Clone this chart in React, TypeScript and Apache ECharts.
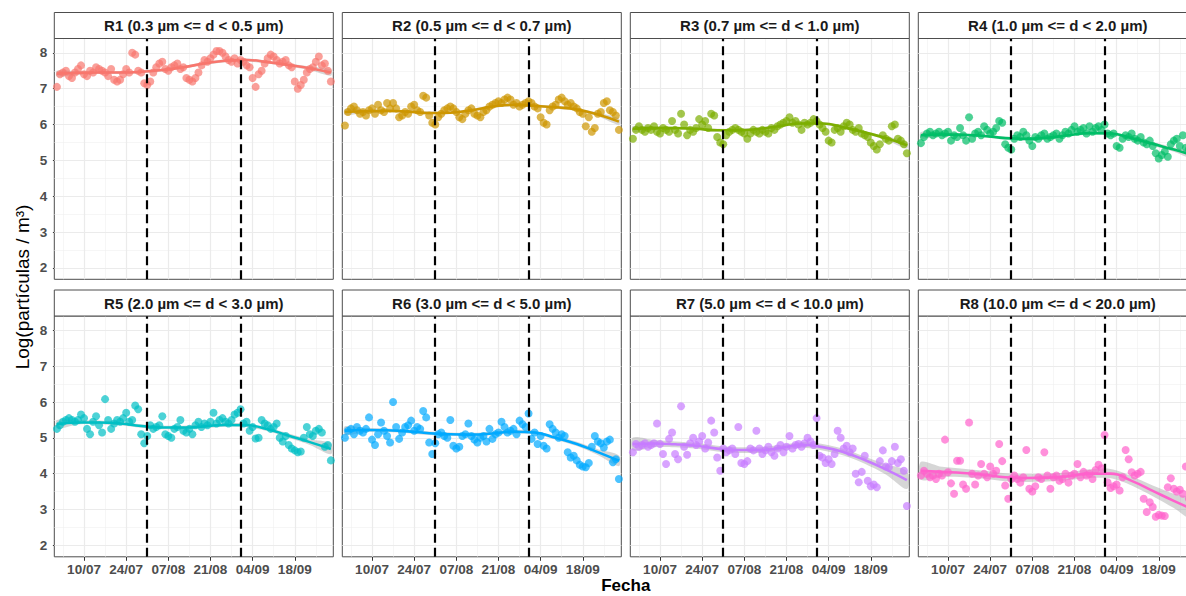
import React, { useEffect, useRef } from 'react';
import * as echarts from 'echarts';

// ---------- data ----------
const PANEL_TITLES = [
  'R1 (0.3 µm <= d < 0.5 µm)',
  'R2 (0.5 µm <= d < 0.7 µm)',
  'R3 (0.7 µm <= d < 1.0 µm)',
  'R4 (1.0 µm <= d < 2.0 µm)',
  'R5 (2.0 µm <= d < 3.0 µm)',
  'R6 (3.0 µm <= d < 5.0 µm)',
  'R7 (5.0 µm <= d < 10.0 µm)',
  'R8 (10.0 µm <= d < 20.0 µm)',
];
const COLORS = ['#F8766D', '#CD9600', '#7CAE00', '#00BE67', '#00BFC4', '#00A9FF', '#C77CFF', '#FF61CC'];

// daily values, day 0 = 01/07 ... day 91 = 30/09
const R1 = [7.05,7.40,7.45,7.50,7.35,7.30,7.45,7.55,7.65,7.40, 7.35,7.50,7.45,7.60,7.55,7.50,7.45,7.35,7.55,7.25, 7.20,7.25,7.40,7.55,7.45,8.00,7.95,7.50,7.45,7.15, 7.10,7.20,7.45,7.60,7.70,7.75,7.55,7.50,7.60,7.65, 7.70,7.55,7.60,7.30,7.25,7.20,7.30,7.45,7.65,7.80, 7.75,7.85,7.95,8.05,8.05,8.00,7.90,7.80,7.75,7.85, 7.70,7.80,7.75,7.65,7.60,7.30,7.05,7.40,7.50,7.70, 7.85,7.95,7.90,7.80,7.70,7.75,7.80,7.65,7.60,7.20, 7.00,7.10,7.25,7.45,7.55,7.60,7.75,7.90,7.65,7.70, 7.50,7.20];
const R2 = [5.97,6.35,6.45,6.50,6.40,6.30,6.35,6.25,6.40,6.45, 6.30,6.55,6.40,6.35,6.60,6.45,6.60,6.45,6.20,6.25, 6.35,6.30,6.50,6.55,6.40,6.35,6.80,6.75,6.25,6.05, 6.00,6.20,6.30,6.40,6.45,6.50,6.45,6.35,6.20,6.15, 6.30,6.40,6.45,6.30,6.25,6.20,6.35,6.40,6.50,6.55, 6.60,6.65,6.60,6.70,6.75,6.70,6.55,6.60,6.50,6.55, 6.60,6.65,6.60,6.50,6.45,6.20,6.05,6.00,6.40,6.50, 6.55,6.70,6.75,6.65,6.55,6.60,6.50,6.45,6.35,6.30, 5.95,6.20,5.80,5.90,6.30,6.35,6.60,6.65,6.40,6.35, 6.25,5.85];
const R3 = [5.60,5.85,5.95,5.85,5.80,5.90,5.85,5.95,5.80,5.75, 5.90,5.85,5.80,6.10,5.85,5.75,6.30,6.00,5.70,5.85, 5.80,5.90,6.15,6.00,6.10,5.90,6.30,6.25,5.65,5.50, 5.45,5.70,5.80,5.85,5.90,5.85,5.80,5.75,5.60,5.75, 5.85,5.80,5.75,5.85,5.80,5.75,5.90,5.85,5.95,6.00, 6.05,6.10,6.20,6.05,6.10,6.00,5.85,6.05,6.00,6.05, 6.15,6.10,6.00,5.90,5.80,5.55,5.50,5.85,5.90,5.80, 5.95,6.05,6.00,5.85,5.80,5.90,5.75,5.70,5.65,5.50, 5.40,5.30,5.45,5.70,5.60,5.55,5.95,6.00,5.60,5.55, 5.45,5.20];
const R4 = [5.48,5.65,5.75,5.80,5.70,5.75,5.80,5.70,5.75,5.80, 5.55,5.70,5.65,5.90,5.70,5.55,6.20,5.60,5.75,5.80, 5.70,5.95,5.85,5.75,5.80,5.90,6.10,6.05,5.45,5.35, 5.30,5.60,5.70,5.65,5.80,5.70,5.55,5.40,5.65,5.60, 5.70,5.75,5.60,5.65,5.70,5.75,5.60,5.70,5.80,5.75, 5.85,5.95,5.80,5.85,5.90,5.75,5.95,5.80,5.90,5.95, 5.85,6.00,5.75,5.70,5.75,5.40,5.35,5.60,5.70,5.65, 5.75,5.60,5.55,5.65,5.50,5.45,5.55,5.40,5.20,5.05, 5.15,5.25,5.10,5.45,5.55,5.60,5.40,5.70,5.35,5.30, 5.25,5.10];
const R5 = [5.25,5.35,5.45,5.50,5.55,5.50,5.45,5.50,5.65,5.55, 5.25,5.10,5.45,5.60,5.35,5.15,6.08,5.50,5.25,5.40, 5.50,5.45,5.55,5.70,5.45,5.50,5.90,5.80,5.10,4.85, 5.05,5.35,5.25,5.30,5.35,5.60,5.10,5.05,5.00,5.25, 5.30,5.50,5.20,5.15,5.25,5.10,5.35,5.45,5.30,5.40, 5.35,5.45,5.70,5.40,5.50,5.55,5.45,5.40,5.50,5.65, 5.70,5.80,5.40,5.45,5.20,5.30,4.98,5.00,5.50,5.40, 5.35,5.25,5.30,5.40,5.00,4.90,5.05,4.80,4.70,4.65, 4.60,4.62,5.00,5.30,5.10,5.05,5.20,5.25,5.15,4.75, 4.80,4.37];
const R6 = [5.00,5.20,5.25,5.10,5.30,5.20,5.15,5.25,5.57,4.95, 4.80,5.10,5.43,5.20,5.05,4.87,6.00,5.30,4.97,5.15, 5.30,5.35,5.48,5.20,5.30,5.25,5.75,5.57,4.87,4.55, 4.85,5.10,5.15,5.05,5.00,5.50,4.78,4.70,4.75,5.05, 5.10,5.40,5.05,4.95,4.87,5.00,5.05,4.90,5.25,4.97, 5.10,5.15,5.45,5.30,5.15,5.20,5.25,5.10,5.48,5.38, 5.30,5.68,4.97,5.15,4.83,5.05,4.78,4.70,5.38,5.25, 5.15,5.00,5.10,5.05,4.60,4.45,4.50,4.37,4.25,4.20, 4.18,4.30,4.75,5.05,4.90,4.85,4.73,4.90,4.95,4.32, 4.40,3.85];
const R7 = [4.60,4.83,4.75,4.80,4.85,4.75,4.80,4.85,5.40,4.83, 4.55,4.27,4.97,5.15,4.55,4.40,5.88,4.75,4.53,4.85, 5.00,4.80,4.90,5.05,4.70,4.87,5.48,5.15,4.45,4.08, 4.70,4.60,4.65,4.70,4.55,5.30,4.30,4.27,4.35,4.70, 4.65,5.20,4.70,4.55,4.65,4.75,4.60,4.50,4.70,4.80, 4.60,4.75,5.05,4.70,4.80,4.83,4.75,4.85,5.00,4.90, 4.80,5.55,4.50,4.45,4.30,4.40,4.27,4.55,5.20,5.00, 4.70,4.78,4.60,4.70,4.00,3.76,4.05,4.50,3.80,3.65, 3.70,3.62,4.35,4.65,4.20,4.18,4.35,4.75,4.30,4.40, 4.08,3.10];
const R8 = [3.95,4.08,4.00,3.90,3.95,3.85,4.00,3.95,4.95,4.04, 3.73,3.44,4.36,4.36,3.70,3.58,5.43,4.00,3.70,3.95, 4.27,4.00,3.90,4.20,4.00,4.08,4.83,4.35,3.67,3.30, 3.85,3.95,3.85,3.75,3.90,4.66,3.58,3.50,3.65,3.90, 3.85,4.60,3.95,3.58,3.90,3.95,3.80,3.85,4.00,3.75, 3.95,4.00,4.27,3.90,4.05,3.95,4.00,3.85,4.10,4.25, 4.15,5.08,3.76,3.60,3.65,3.70,3.53,3.90,4.66,4.40, 4.04,3.95,4.00,4.05,3.30,2.93,3.20,3.07,2.80,2.85, 2.83,2.82,3.62,3.87,3.58,3.50,3.55,3.44,4.20,3.30, 3.15,3.00];
const POINTS = [R1, R2, R3, R4, R5, R6, R7, R8];

// loess fit read at these days
const SMOOTH_DAYS = [0, 7, 14, 21, 28, 35, 42, 49, 56, 63, 70, 77, 84, 91];
const S1 = [7.42,7.44,7.45,7.45,7.47,7.52,7.60,7.70,7.78,7.80,7.74,7.66,7.57,7.45];
const S2 = [6.35,6.37,6.38,6.36,6.32,6.33,6.40,6.50,6.55,6.52,6.48,6.42,6.28,6.08];
const S3 = [5.88,5.90,5.90,5.88,5.84,5.84,5.88,5.96,6.03,6.03,5.92,5.78,5.62,5.42];
const S4 = [5.70,5.72,5.71,5.68,5.62,5.60,5.63,5.70,5.76,5.75,5.62,5.46,5.30,5.12];
const S5 = [5.38,5.43,5.43,5.40,5.33,5.29,5.29,5.32,5.36,5.35,5.24,5.06,4.88,4.69];
const S6 = [5.20,5.22,5.21,5.18,5.13,5.10,5.09,5.12,5.17,5.15,5.00,4.83,4.60,4.36];
const S7 = [4.83,4.84,4.82,4.78,4.70,4.66,4.66,4.72,4.80,4.74,4.60,4.38,4.12,3.82];
const S8 = [4.08,4.05,4.02,3.97,3.90,3.88,3.89,3.93,4.00,4.00,3.80,3.52,3.24,2.98];
const SMOOTH = [S1, S2, S3, S4, S5, S6, S7, S8];

// half width of the confidence ribbon
const E1 = [0.08,0.05,0.04,0.04,0.04,0.04,0.04,0.04,0.04,0.04,0.04,0.04,0.05,0.09];
const E2 = [0.08,0.05,0.04,0.04,0.04,0.04,0.04,0.04,0.04,0.04,0.04,0.04,0.05,0.09];
const E3 = [0.08,0.05,0.04,0.04,0.04,0.04,0.04,0.04,0.04,0.04,0.04,0.04,0.05,0.09];
const E4 = [0.09,0.05,0.04,0.04,0.04,0.04,0.04,0.04,0.04,0.04,0.04,0.05,0.06,0.10];
const E5 = [0.12,0.06,0.05,0.05,0.05,0.05,0.05,0.05,0.05,0.05,0.05,0.06,0.08,0.15];
const E6 = [0.12,0.06,0.05,0.05,0.05,0.05,0.05,0.05,0.05,0.05,0.05,0.06,0.08,0.15];
const E7 = [0.18,0.10,0.08,0.08,0.08,0.08,0.08,0.08,0.08,0.09,0.09,0.10,0.14,0.25];
const E8 = [0.25,0.14,0.12,0.11,0.11,0.11,0.11,0.11,0.12,0.13,0.13,0.15,0.20,0.30];
const SE = [E1, E2, E3, E4, E5, E6, E7, E8];

const VLINE_DAYS = [30, 61];
const X_TICKS = [9, 23, 37, 51, 65, 79];
const X_TICK_LABELS = ['10/07', '24/07', '07/08', '21/08', '04/09', '18/09'];
const X_MINOR = [2, 16, 30, 44, 58, 72, 86];
const Y_TICKS = [2, 3, 4, 5, 6, 7, 8];
const Y_MINOR = [2.5, 3.5, 4.5, 5.5, 6.5, 7.5];

// ---------- layout ----------
const FONT = "'Liberation Sans', Arial, sans-serif";
const COL_LEFT = [54.3, 342.3, 630.3, 918.3];
const ROW_TOP = [38.5, 316];
const PW = 279;
const PH = 240.8;
const STRIP_H = 26;
const X_MIN = -0.87, X_MAX = 91.8, Y_MIN = 1.68, Y_MAX = 8.4;

function buildOption() {
  const grids: any[] = [];
  const xAxes: any[] = [];
  const yAxes: any[] = [];
  const series: any[] = [];
  const graphics: any[] = [];

  const major = { color: '#EBEBEB', width: 1.2, type: 'solid' };
  const minor = { color: '#F0F0F0', width: 0.6, type: 'solid' };
  const gridLines = [
    ...Y_MINOR.map(v => ({ yAxis: v, lineStyle: minor })),
    ...X_MINOR.map(v => ({ xAxis: v, lineStyle: minor })),
    ...Y_TICKS.map(v => ({ yAxis: v, lineStyle: major })),
    ...X_TICKS.map(v => ({ xAxis: v, lineStyle: major })),
  ];

  PANEL_TITLES.forEach((title, i) => {
    const r = Math.floor(i / 4);
    const c = i % 4;
    const left = COL_LEFT[c];
    const top = ROW_TOP[r];
    grids.push({
      left, top, width: PW, height: PH,
      show: true, backgroundColor: '#FFFFFF', borderColor: '#4D4D4D', borderWidth: 1,
      containLabel: false, outerBoundsMode: 'none',
    });
    xAxes.push({
      type: 'value', gridIndex: i, min: X_MIN, max: X_MAX,
      axisLine: { show: false },
      splitLine: { show: false },
      axisTick: { show: r === 1, customValues: X_TICKS, length: 4, lineStyle: { color: '#333333', width: 1 } },
      axisLabel: {
        show: r === 1, customValues: X_TICKS, margin: 6,
        color: '#4D4D4D', fontWeight: 'bold', fontSize: 13.5, fontFamily: FONT,
        formatter: (v: number) => {
          const k = X_TICKS.indexOf(Math.round(v));
          return k >= 0 && Math.abs(v - X_TICKS[k]) < 1e-6 ? X_TICK_LABELS[k] : '';
        },
      },
    });
    yAxes.push({
      type: 'value', gridIndex: i, min: Y_MIN, max: Y_MAX,
      axisLine: { show: false },
      splitLine: { show: false },
      axisTick: { show: c === 0, customValues: Y_TICKS, length: 4, lineStyle: { color: '#333333', width: 1 } },
      axisLabel: {
        show: c === 0, customValues: Y_TICKS, margin: 7,
        color: '#4D4D4D', fontWeight: 'bold', fontSize: 13.5, fontFamily: FONT,
        formatter: (v: number) => (Math.abs(v - Math.round(v)) < 1e-6 ? String(Math.round(v)) : ''),
      },
    });

    const s = SMOOTH[i];
    const se = SE[i];
    const color = COLORS[i];

    // confidence ribbon
    series.push({
      type: 'custom', xAxisIndex: i, yAxisIndex: i, z: 2, silent: true, clip: true,
      data: SMOOTH_DAYS.map((d, k) => [d, s[k] - se[k], s[k] + se[k]]),
      encode: { x: 0, y: [1, 2] },
      renderItem: (params: any, api: any) => {
        if (params.dataIndex !== 0) return null;
        const upper = SMOOTH_DAYS.map((d, k) => api.coord([d, s[k] + se[k]]));
        const lower = SMOOTH_DAYS.map((d, k) => api.coord([d, s[k] - se[k]])).reverse();
        return {
          type: 'polygon',
          shape: { points: upper.concat(lower), smooth: 0.3 },
          style: { fill: '#999999', opacity: 0.4 },
        };
      },
    });
    // points + grid lines
    series.push({
      type: 'scatter', xAxisIndex: i, yAxisIndex: i, z: 3, silent: true,
      data: POINTS[i].map((v, d) => [d, v]),
      symbolSize: 8,
      itemStyle: { color, opacity: 0.7 },
      markLine: {
        silent: true, z: 1, symbol: ['none', 'none'], label: { show: false },
        emphasis: { disabled: true }, animation: false,
        data: gridLines,
      },
    });
    // smooth fit + vertical dashed lines
    series.push({
      type: 'line', xAxisIndex: i, yAxisIndex: i, z: 4, silent: true,
      data: SMOOTH_DAYS.map((d, k) => [d, s[k]]),
      smooth: true, symbol: 'none',
      lineStyle: { color, width: 2.6 },
      markLine: {
        silent: true, z: 6, symbol: ['none', 'none'], label: { show: false },
        emphasis: { disabled: true }, animation: false,
        lineStyle: { color: '#000000', width: 2.2, type: [9, 5] },
        data: VLINE_DAYS.map(d => ({ xAxis: d })),
      },
    });

    // facet strip
    graphics.push({
      type: 'rect', silent: true, z: 10,
      shape: { x: left, y: top - STRIP_H, width: PW, height: STRIP_H },
      style: { fill: '#FFFFFF', stroke: '#4D4D4D', lineWidth: 1 },
    });
    graphics.push({
      type: 'text', silent: true, z: 11,
      x: left + PW / 2, y: top - STRIP_H / 2,
      style: {
        text: title, font: `bold 15px ${FONT}`, fill: '#1A1A1A',
        textAlign: 'center', textVerticalAlign: 'middle', align: 'center', verticalAlign: 'middle',
      },
    });
  });

  graphics.push({
    type: 'text', silent: true, z: 11,
    x: 22, y: 287, rotation: Math.PI / 2,
    style: {
      text: 'Log(partículas / m³)', font: `19px ${FONT}`, fill: '#000000',
      textAlign: 'center', textVerticalAlign: 'middle', align: 'center', verticalAlign: 'middle',
    },
  });
  graphics.push({
    type: 'text', silent: true, z: 11,
    x: 625.8, y: 585.5,
    style: {
      text: 'Fecha', font: `bold 17px ${FONT}`, fill: '#000000',
      textAlign: 'center', textVerticalAlign: 'middle', align: 'center', verticalAlign: 'middle',
    },
  });

  return {
    animation: false,
    backgroundColor: '#FFFFFF',
    grid: grids,
    xAxis: xAxes,
    yAxis: yAxes,
    series,
    graphic: graphics,
  };
}

export default function App() {
  const ref = useRef<HTMLDivElement>(null);
  useEffect(() => {
    if (!ref.current) return;
    const chart = echarts.init(ref.current, null, { renderer: 'svg' });
    chart.setOption(buildOption() as any);
    return () => chart.dispose();
  }, []);
  return (
    <div
      ref={ref}
      style={{ position: 'absolute', left: 0, top: 0, width: 1186, height: 596, background: '#fff' }}
    />
  );
}
